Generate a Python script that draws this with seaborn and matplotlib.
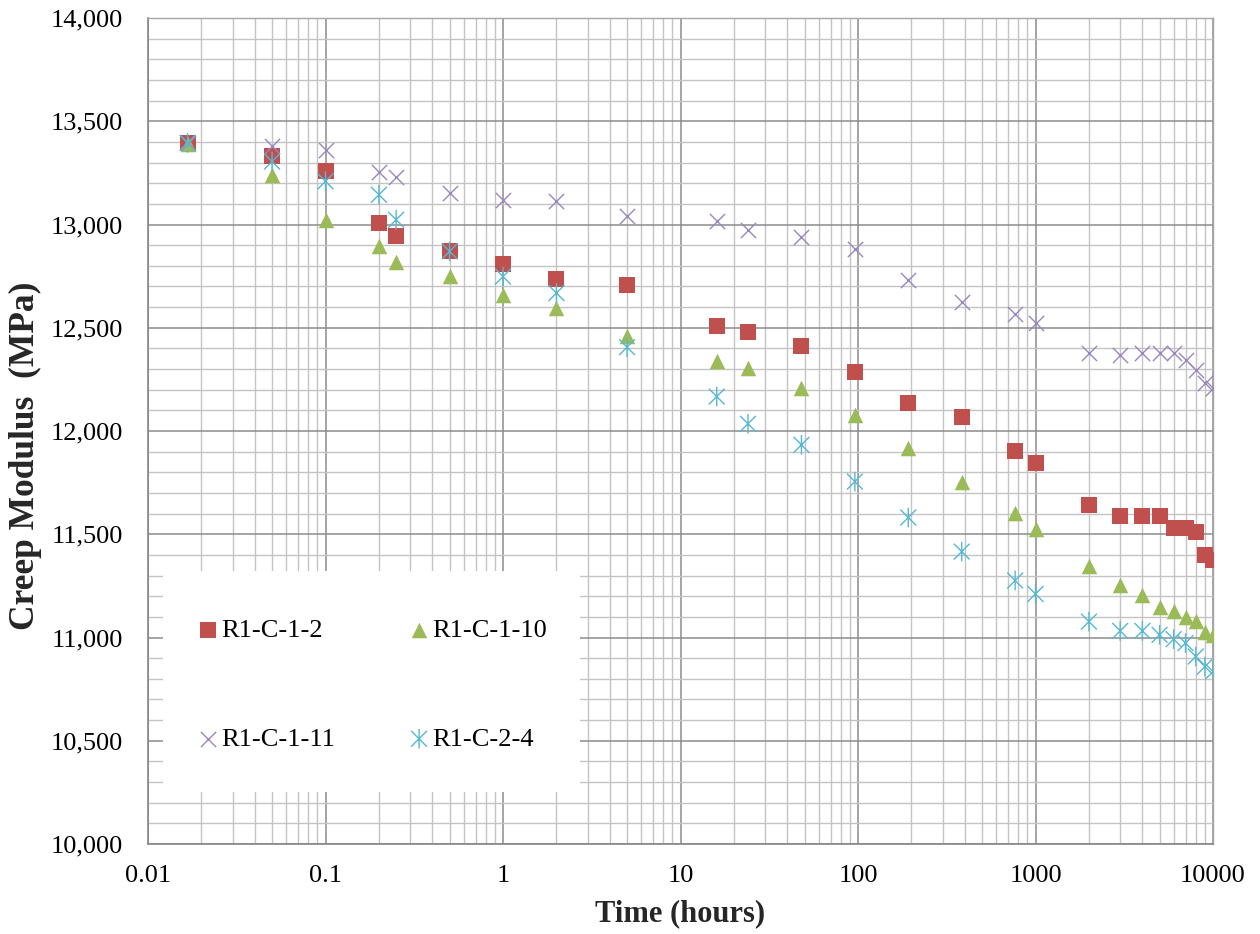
import numpy as np
import pandas as pd
import matplotlib
matplotlib.use("Agg")
import matplotlib.pyplot as plt
from matplotlib.path import Path
from matplotlib.patches import Rectangle
from matplotlib.ticker import FixedLocator, FuncFormatter, MultipleLocator, LogLocator, NullFormatter
import seaborn as sns

# ---------------- data ----------------
time_hours = [0.0167, 0.05, 0.1, 0.2, 0.25, 0.5, 1, 2, 5, 16, 24, 48, 96, 192, 384,
              768, 1000, 2000, 3000, 4000, 5000, 6000, 7000, 8000, 9000, 10000]

r1_c_1_2 = [13395, 13330, 13257, 13007, 12942, 12870, 12808, 12737, 12708, 12510, 12479,
            12414, 12285, 12135, 12070, 11901, 11844, 11642, 11586, 11586, 11586, 11530,
            11530, 11510, 11400, 11373]
r1_c_1_10 = [13390, 13241, 13023, 12894, 12816, 12752, 12660, 12595, 12458, 12337, 12307,
             12208, 12078, 11917, 11755, 11602, 11525, 11344, 11255, 11206, 11150, 11126,
             11101, 11082, 11029, 11013]
r1_c_1_11 = [13395, 13378, 13359, 13252, 13230, 13152, 13117, 13115, 13042, 13018, 12971,
             12939, 12882, 12730, 12627, 12568, 12523, 12380, 12369, 12380, 12380, 12380,
             12345, 12296, 12232, 12208]
r1_c_2_4 = [13395, 13305, 13209, 13144, 13023, 12870, 12748, 12668, 12406, 12167, 12035,
            11933, 11755, 11581, 11416, 11276, 11211, 11077, 11032, 11032, 11013, 10992,
            10973, 10908, 10859, 10835]

series_names = ["R1-C-1-2", "R1-C-1-10", "R1-C-1-11", "R1-C-2-4"]
series_values = [r1_c_1_2, r1_c_1_10, r1_c_1_11, r1_c_2_4]

x_tick_values = [0.01, 0.1, 1, 10, 100, 1000, 10000]
x_tick_labels = ["0.01", "0.1", "1", "10", "100", "1000", "10000"]

# ---------------- style ----------------
sns.set_style("white")
plt.rcParams["font.family"] = ["Liberation Serif", "DejaVu Serif"]

colors = {"R1-C-1-2": "#C0504D", "R1-C-1-10": "#9BBB59",
          "R1-C-1-11": "#9A86C0", "R1-C-2-4": "#56B8D2"}

# asterisk marker: X plus vertical stroke
ast_path = Path([(-0.5, -0.5), (0.5, 0.5), (-0.5, 0.5), (0.5, -0.5), (0, -0.62), (0, 0.62)],
                [Path.MOVETO, Path.LINETO, Path.MOVETO, Path.LINETO, Path.MOVETO, Path.LINETO])

marker_kw = {
    "R1-C-1-2": dict(marker="s", s=120, linewidth=0),
    "R1-C-1-10": dict(marker="^", s=125, linewidth=0),
    "R1-C-1-11": dict(marker="x", s=120, linewidth=1.0),
    "R1-C-2-4": dict(marker=ast_path, s=200, linewidth=1.0),
}

df = pd.DataFrame({"Time": np.tile(time_hours, len(series_names)),
                   "Modulus": np.concatenate(series_values),
                   "Sample": np.repeat(series_names, len(time_hours))})

fig = plt.figure(figsize=(12.6, 9.34), dpi=100)
ax = fig.add_axes([148 / 1260, 90 / 934, (1213 - 148) / 1260, (844 - 18) / 934])

for name in series_names:
    sub = df[df["Sample"] == name]
    kw = dict(marker_kw[name])
    c = colors[name]
    if name == "R1-C-2-4":
        kw.update(facecolor="none", edgecolor=c)
    elif name == "R1-C-1-11":
        kw.update(color=c)
    else:
        kw.update(color=c, edgecolor=c)
    sns.scatterplot(data=sub, x="Time", y="Modulus", ax=ax, label=name, zorder=3, **kw)

ax.set_xscale("log")
ax.set_xlim(0.01, 10000)
ax.set_ylim(10000, 14000)

ax.xaxis.set_major_locator(FixedLocator(x_tick_values))
ax.set_xticklabels(x_tick_labels)
ax.xaxis.set_minor_locator(LogLocator(base=10, subs=np.arange(2, 10), numticks=20))
ax.xaxis.set_minor_formatter(NullFormatter())
ax.yaxis.set_major_locator(MultipleLocator(500))
ax.yaxis.set_minor_locator(MultipleLocator(100))
ax.yaxis.set_major_formatter(FuncFormatter(lambda v, p: f"{int(v):,}"))

ax.set_axisbelow(True)
ax.grid(which="major", color="#8c8c8c", linewidth=1.1)
ax.grid(which="minor", color="#c4c4c4", linewidth=1.0)

for side in ["left", "bottom"]:
    ax.spines[side].set_color("#868686")
    ax.spines[side].set_linewidth(1.2)
for side in ["top", "right"]:
    ax.spines[side].set_color("#a6a6a6")
    ax.spines[side].set_linewidth(1.0)

ax.tick_params(which="major", direction="out", length=7, width=1, color="#868686",
               labelsize=19, labelcolor="black")
ax.tick_params(axis="y", which="major", pad=11)
ax.tick_params(axis="x", which="major", pad=8)
ax.tick_params(which="minor", length=0)

ax.set_xlabel("Time (hours)", fontsize=22, fontweight="bold", labelpad=9)
ax.set_ylabel("Creep Modulus  (MPa)", fontsize=25.5, fontweight="bold")
ax.yaxis.set_label_coords(-0.0995, 0.47)

# opaque white legend area covering the gridlines
ax.add_patch(Rectangle((0.014, 0.063), 0.392, 0.267, transform=ax.transAxes,
                       facecolor="white", edgecolor="none", zorder=1))

handles, labels = ax.get_legend_handles_labels()
order = [0, 2, 1, 3]
leg = ax.legend([handles[i] for i in order], [labels[i] for i in order],
                loc="upper left", bbox_to_anchor=(0.0465, 0.273), ncol=2,
                frameon=False, fontsize=19, handlelength=0.8, handletextpad=0.1,
                columnspacing=2.78, labelspacing=3.23, borderpad=0, borderaxespad=0)
for t in leg.get_texts():
    t.set_color("black")

fig.savefig("out.png", dpi=100)
